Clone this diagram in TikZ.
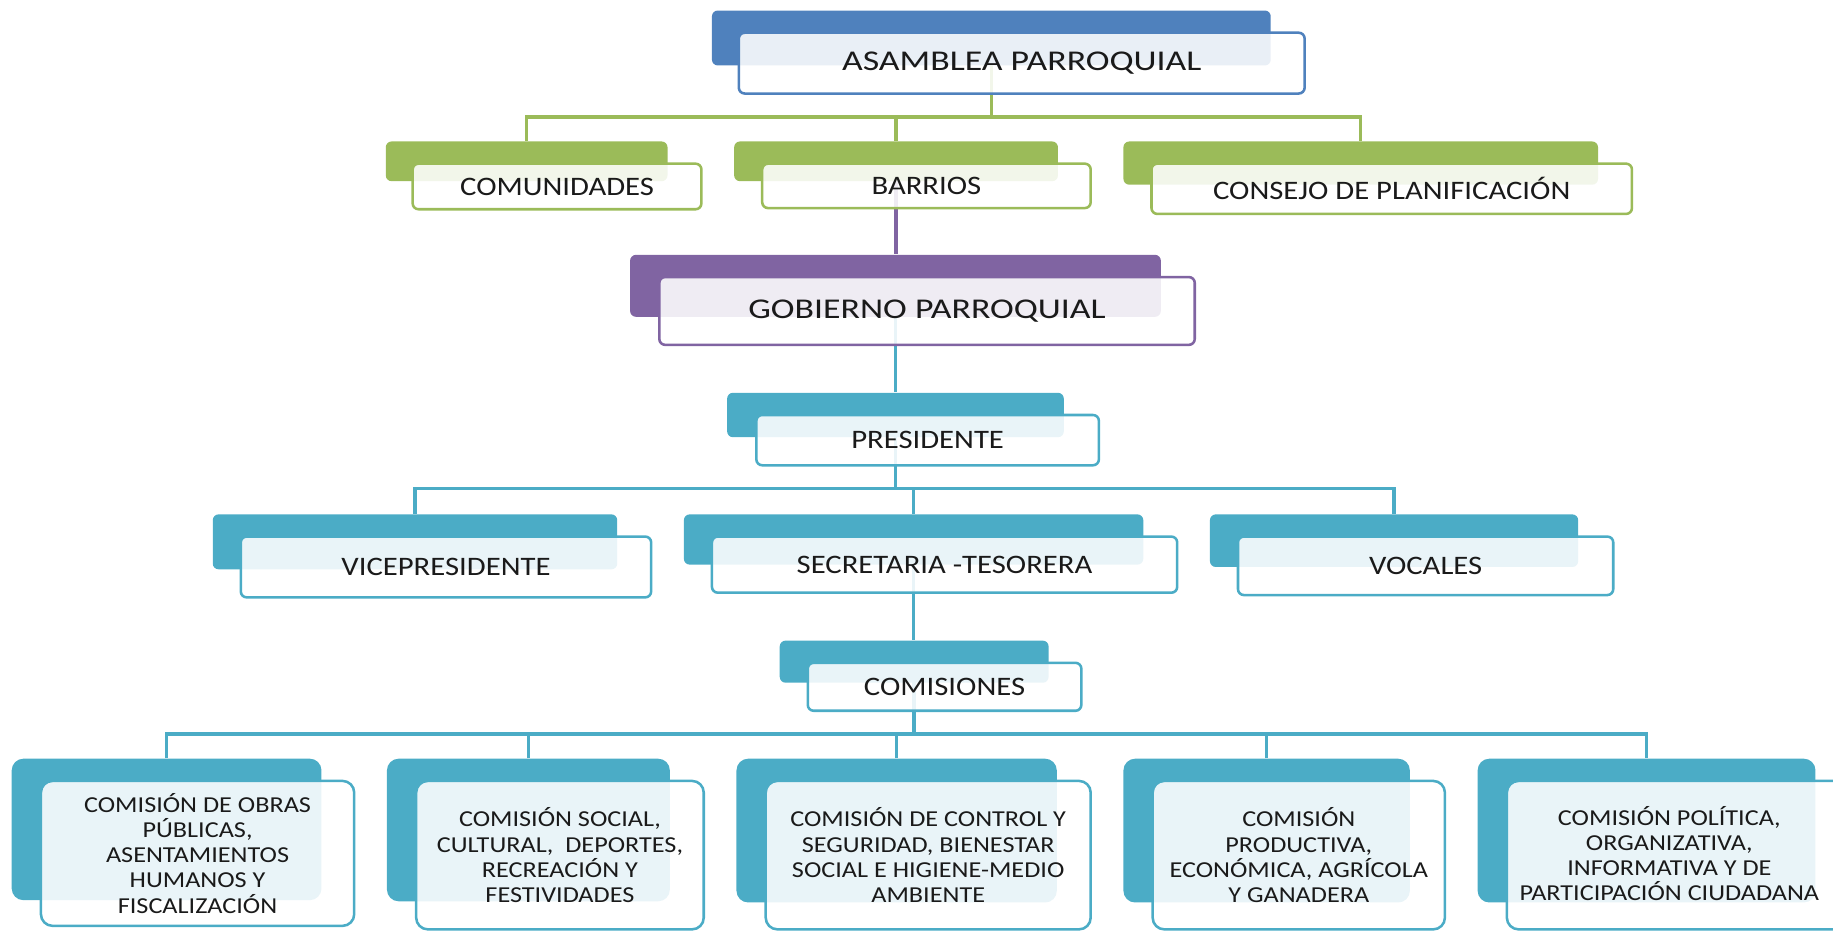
\documentclass[tikz,border=0pt]{standalone}
\usepackage{fontspec}
\setmainfont{Carlito}
\newfontfamily\bigfont[FakeStretch=1.25]{Carlito}
\newfontfamily\midfont[FakeStretch=1.15]{Carlito}
\usetikzlibrary{fit}
\definecolor{blueM}{HTML}{4F81BD}
\definecolor{greenM}{HTML}{9BBB59}
\definecolor{purpleM}{HTML}{8064A2}
\definecolor{tealM}{HTML}{4BACC6}
\definecolor{txt}{HTML}{1A1A1A}
\pgfdeclarelayer{conn}
\pgfsetlayers{conn,main}
\tikzset{
  backbox/.style={inner sep=0pt, rounded corners=3pt, draw=none},
  frontbox/.style={inner sep=0pt, rounded corners=3pt, line width=1.3pt,
    fill=white, fill opacity=0.88},
  lbl/.style={text=txt, align=center, inner sep=0pt, fill opacity=1, text opacity=1},
  bigtxt/.style={lbl, font=\bigfont\fontsize{14.7}{16}\selectfont},
  midtxt/.style={lbl, font=\midfont\fontsize{13.7}{15}\selectfont},
  lowtxt/.style={lbl, font=\midfont\fontsize{11.7}{12.9}\selectfont},
  bigbox/.style={frontbox, label={[bigtxt]center:#1}},
  midbox/.style={frontbox, label={[midtxt]center:#1}},
  lowbox/.style={frontbox, rounded corners=6pt, label={[lowtxt]center:#1}},
  lowback/.style={backbox, rounded corners=6pt},
  conn/.style={line width=1.8pt},
}
\begin{document}
\begin{tikzpicture}[x=0.6pt,y=-0.6pt]
\useasboundingbox (0,0) rectangle (1568,796);
\clip (0,0) rectangle (1568,796);
% back boxes
\node[backbox, fill=blueM,   fit={(609,9)(1087,56)}]   (asamB) {};
\node[backbox, fill=greenM,  fit={(330,121)(571,155)}] (comB) {};
\node[backbox, fill=greenM,  fit={(628,121)(905,155)}] (barB) {};
\node[backbox, fill=greenM,  fit={(961,121)(1367,158)}] (conB) {};
\node[backbox, fill=purpleM, fit={(539,218)(993,271)}] (gobB) {};
\node[backbox, fill=tealM,   fit={(622,336)(910,374)}] (preB) {};
\node[backbox, fill=tealM,   fit={(182,440)(528,487)}] (vicB) {};
\node[backbox, fill=tealM,   fit={(585,440)(978,483)}] (secB) {};
\node[backbox, fill=tealM,   fit={(1035,440)(1350,485)}] (vocB) {};
\node[backbox, fill=tealM,   fit={(667,548)(897,584)}] (comiB) {};
\node[lowback, fill=tealM,   fit={(10,649)(275,770)}]  (c1B) {};
\node[lowback, fill=tealM,   fit={(331,649)(573,771)}] (c2B) {};
\node[lowback, fill=tealM,   fit={(630,649)(904,772)}] (c3B) {};
\node[lowback, fill=tealM,   fit={(961,649)(1206,772)}] (c4B) {};
\node[lowback, fill=tealM,   fit={(1264,649)(1553,772)}] (c5B) {};
% front boxes
\node[bigbox={ASAMBLEA PARROQUIAL}, draw=blueM, fit={(632,28)(1116,80)}] (asam) {};
\node[midbox={COMUNIDADES}, draw=greenM, fit={(353,140)(600,179)}] (com) {};
\node[midbox={BARRIOS}, draw=greenM, fit={(652,140)(933,178)}] (bar) {};
\node[midbox={CONSEJO DE PLANIFICACIÓN}, draw=greenM, fit={(985,140)(1396,183)}] (con) {};
\node[bigbox={GOBIERNO PARROQUIAL}, draw=purpleM, fit={(564,237)(1022,295)}] (gob) {};
\node[midbox={PRESIDENTE}, draw=tealM, fit={(647,355)(940,398)}] (pre) {};
\node[midbox={VICEPRESIDENTE}, draw=tealM, fit={(206,459)(557,511)}] (vic) {};
\node[midbox={SECRETARIA -TESORERA}, draw=tealM, fit={(609,459)(1007,507)}] (sec) {};
\node[midbox={VOCALES}, draw=tealM, fit={(1059,459)(1380,509)}] (voc) {};
\node[midbox={COMISIONES}, draw=tealM, fit={(691,567)(925,608)}] (comi) {};
\node[lowbox={COMISIÓN DE OBRAS\\PÚBLICAS,\\ASENTAMIENTOS\\HUMANOS Y\\FISCALIZACIÓN}, draw=tealM, fit={(35,668)(303,792)}] (c1) {};
\node[lowbox={COMISIÓN SOCIAL,\\CULTURAL,\ \ DEPORTES,\\RECREACIÓN Y\\FESTIVIDADES}, draw=tealM, fit={(356,668)(602,795)}] (c2) {};
\node[lowbox={COMISIÓN DE CONTROL Y\\SEGURIDAD, BIENESTAR\\SOCIAL E HIGIENE-MEDIO\\AMBIENTE}, draw=tealM, fit={(655,668)(933,795)}] (c3) {};
\node[lowbox={COMISIÓN\\PRODUCTIVA,\\ECONÓMICA, AGRÍCOLA\\Y GANADERA}, draw=tealM, fit={(986,668)(1236,795)}] (c4) {};
\node[frontbox, rounded corners=6pt, draw=tealM, fit={(1289,668)(1590,795)}] (c5) {};
\node[lowtxt] (c5t) at (1428,730) {COMISIÓN POLÍTICA,\\ORGANIZATIVA,\\INFORMATIVA Y DE\\PARTICIPACIÓN CIUDADANA};
% bus coordinates
\coordinate (bus1) at (0,100);
\coordinate (bus2) at (0,418);
\coordinate (bus3) at (0,628);
\begin{pgfonlayer}{conn}
\draw[conn, greenM] (asamB.center) -- (asamB.center |- bus1);
\draw[conn, greenM] (comB.north) -- (comB.north |- bus1) -- (conB.north |- bus1) -- (conB.north);
\draw[conn, greenM] (barB.north) -- (barB.north |- bus1);
\draw[conn, purpleM] (barB.center) -- (barB.center |- gobB.north);
\draw[conn, tealM] (gobB.center) -- (gobB.center |- preB.north);
\draw[conn, tealM] (preB.center) -- (preB.center |- bus2);
\draw[conn, tealM] (vicB.north) -- (vicB.north |- bus2) -- (vocB.north |- bus2) -- (vocB.north);
\draw[conn, tealM] (secB.north) -- (secB.north |- bus2);
\draw[conn, tealM] (secB.center) -- (secB.center |- comiB.north);
\draw[conn, tealM] (comiB.center) -- (comiB.center |- bus3);
\draw[conn, tealM] (c1B.north) -- (c1B.north |- bus3) -- (c5B.north |- bus3) -- (c5B.north);
\draw[conn, tealM] (c2B.north) -- (c2B.north |- bus3);
\draw[conn, tealM] (c3B.north) -- (c3B.north |- bus3);
\draw[conn, tealM] (c4B.north) -- (c4B.north |- bus3);
\end{pgfonlayer}
\end{tikzpicture}
\end{document}
